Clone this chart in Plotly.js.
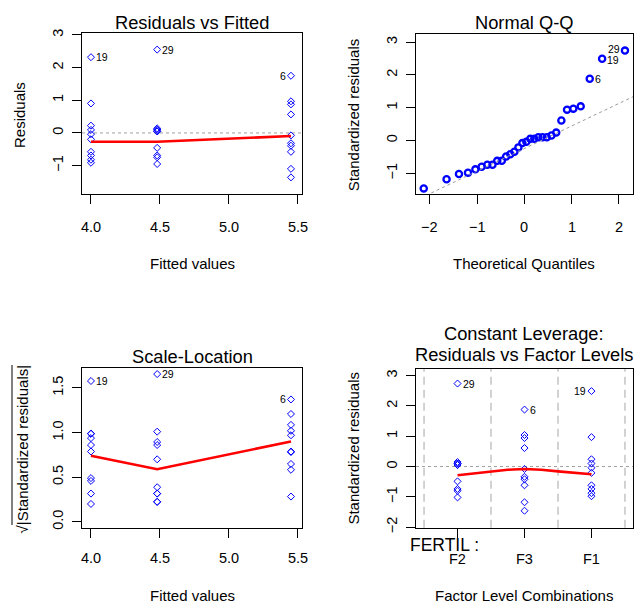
<!DOCTYPE html>
<html><head><meta charset="utf-8">
<script src="https://cdn.plot.ly/plotly-3.0.1.min.js"></script>
<style>html,body{margin:0;padding:0;background:#fff}#chart{width:635px;height:606px}</style>
</head><body><div id="chart"></div>
<script>
// ---------------- data ----------------
const factorName = 'FERTIL';
const levels = ['F1', 'F2', 'F3'];
const fittedValues = [4.00, 4.48, 5.45];            // fitted value of each level
const stdResidF1 = [2.49, 0.97, 0.24, 0.10, -0.04, -0.21, -0.62, -0.74, -0.88, -0.98];
const stdResidF2 = [2.74, 0.15, 0.10, 0.10, 0.05, 0.05, -0.49, -0.74, -0.80, -1.02];
const stdResidF3 = [1.88, 1.04, 0.94, 0.61, -0.08, -0.34, -0.42, -0.62, -1.18, -1.46];
const extremeLabels = ['19', '29', '6'];             // observation id of the largest residual of each level
const residScale = 0.93;                             // sigma * sqrt(1 - h)
const levelOrder = ['F2', 'F3', 'F1'];               // order on the factor-level plot
const theoQuantiles = [-2.128, -1.645, -1.383, -1.192, -1.036, -0.903, -0.783, -0.674, -0.573, -0.477,
  -0.385, -0.297, -0.210, -0.126, -0.042, 0.042, 0.126, 0.210, 0.297, 0.385,
  0.477, 0.573, 0.674, 0.783, 0.903, 1.036, 1.192, 1.383, 1.645, 2.128];
const normQuartile = 0.6745;
const smoothResidFitted = [-0.27, -0.27, -0.095];    // smoother at fittedValues
const smoothScaleLoc = [0.74, 0.59, 0.90];           // smoother at fittedValues
const smoothLevelX = [1, 1.25, 1.5, 1.75, 2, 2.25, 2.5, 2.75, 3];
const smoothLevelY = [-0.29, -0.235, -0.165, -0.105, -0.08, -0.105, -0.16, -0.215, -0.255];
const fittedTicks = [4, 4.5, 5, 5.5];
const quantileTicks = [-2, -1, 0, 1, 2];

// ---------------- helpers ----------------
const W = 635, H = 606;
const fx = p => p / W;
const fy = p => 1 - p / H;
const FONT = '"Liberation Sans", Arial, sans-serif';
const BLUE = '#0000ff';
const stdGroups = [stdResidF1, stdResidF2, stdResidF3];

const traces = [];
const annotations = [];
const shapes = [];

function pointLabel(xref, yref, x, y, text, side, dy) {
  annotations.push({
    xref: xref, yref: yref, x: x, y: y, text: text, showarrow: false,
    xanchor: side === 'right' ? 'left' : 'right', yanchor: 'middle',
    xshift: side === 'right' ? 3 : -3, yshift: dy || 0,
    font: {family: FONT, size: 10.5, color: '#000'}
  });
}
function xTickLabels(xref, vals, texts, ypx) {
  vals.forEach((v, k) => annotations.push({
    xref: xref, yref: 'paper', x: v, y: fy(ypx), text: texts[k], showarrow: false,
    xanchor: 'center', yanchor: 'middle', font: {family: FONT, size: 14.5, color: '#000'}
  }));
}

// ---- Panel 1: Residuals vs Fitted ----
const side1 = {'19': 'right', '29': 'right', '6': 'left'};
levels.forEach((lv, i) => {
  const res = stdGroups[i].map(v => v * residScale);
  traces.push({type: 'scatter', mode: 'markers', xaxis: 'x', yaxis: 'y',
    x: res.map(() => fittedValues[i]), y: res,
    marker: {symbol: 'diamond-open', size: 5.4, color: BLUE, line: {width: 1, color: BLUE}},
    hoverinfo: 'skip', showlegend: false});
  pointLabel('x', 'y', fittedValues[i], res[0], extremeLabels[i], side1[extremeLabels[i]]);
});
traces.push({type: 'scatter', mode: 'lines', xaxis: 'x', yaxis: 'y', x: fittedValues, y: smoothResidFitted,
  line: {color: '#ff0000', width: 2.6}, hoverinfo: 'skip', showlegend: false});

// ---- Panel 2: Normal Q-Q ----
const all = [];
levels.forEach((lv, i) => stdGroups[i].forEach((v, j) => all.push({v: v, lab: j === 0 ? extremeLabels[i] : null})));
all.sort((a, b) => a.v - b.v);
const sortedStd = all.map(d => d.v);
traces.push({type: 'scatter', mode: 'markers', xaxis: 'x2', yaxis: 'y2',
  x: theoQuantiles, y: sortedStd,
  marker: {symbol: 'circle-open', size: 6.2, color: BLUE, line: {width: 2.3, color: BLUE}},
  hoverinfo: 'skip', showlegend: false});
function quantile7(arr, p) {
  const h = (arr.length - 1) * p, lo = Math.floor(h);
  return arr[lo] + (h - lo) * (arr[lo + 1] - arr[lo]);
}
const yq1 = quantile7(sortedStd, 0.25), yq3 = quantile7(sortedStd, 0.75);
const qqSlope = (yq3 - yq1) / (2 * normQuartile);
const qqInt = yq1 + qqSlope * normQuartile;
const qqX = [-3, 3];
traces.push({type: 'scatter', mode: 'lines', xaxis: 'x2', yaxis: 'y2', x: qqX, y: qqX.map(x => qqInt + qqSlope * x),
  line: {color: '#999999', width: 1, dash: 'dot'}, hoverinfo: 'skip', showlegend: false});
const side2 = {'19': 'right', '29': 'left', '6': 'right'};
const shift2 = {'19': -1.5, '29': 2, '6': 0};
all.forEach((d, k) => { if (d.lab) pointLabel('x2', 'y2', theoQuantiles[k], d.v, d.lab, side2[d.lab], shift2[d.lab]); });

// ---- Panel 3: Scale-Location ----
const side3 = {'19': 'right', '29': 'right', '6': 'left'};
levels.forEach((lv, i) => {
  const s = stdGroups[i].map(v => Math.sqrt(Math.abs(v)));
  traces.push({type: 'scatter', mode: 'markers', xaxis: 'x3', yaxis: 'y3',
    x: s.map(() => fittedValues[i]), y: s,
    marker: {symbol: 'diamond-open', size: 5.4, color: BLUE, line: {width: 1, color: BLUE}},
    hoverinfo: 'skip', showlegend: false});
  pointLabel('x3', 'y3', fittedValues[i], s[0], extremeLabels[i], side3[extremeLabels[i]]);
});
traces.push({type: 'scatter', mode: 'lines', xaxis: 'x3', yaxis: 'y3', x: fittedValues, y: smoothScaleLoc,
  line: {color: '#ff0000', width: 2.6}, hoverinfo: 'skip', showlegend: false});

// ---- Panel 4: Constant Leverage ----
const side4 = {'19': 'left', '29': 'right', '6': 'right'};
levelOrder.forEach((lv, k) => {
  const i = levels.indexOf(lv);
  traces.push({type: 'scatter', mode: 'markers', xaxis: 'x4', yaxis: 'y4',
    x: stdGroups[i].map(() => k + 1), y: stdGroups[i],
    marker: {symbol: 'diamond-open', size: 5.4, color: BLUE, line: {width: 1, color: BLUE}},
    hoverinfo: 'skip', showlegend: false});
  pointLabel('x4', 'y4', k + 1, stdGroups[i][0], extremeLabels[i], side4[extremeLabels[i]]);
});
traces.push({type: 'scatter', mode: 'lines', xaxis: 'x4', yaxis: 'y4', x: smoothLevelX, y: smoothLevelY,
  line: {color: '#ff0000', width: 2.6}, hoverinfo: 'skip', showlegend: false});
for (let k = 0; k <= levelOrder.length; k++) {
  shapes.push({type: 'line', xref: 'x4', yref: 'y4 domain', x0: k + 0.5, x1: k + 0.5, y0: 0, y1: 1,
    line: {color: '#c4c4c4', width: 1.5, dash: '8px,5px'}, layer: 'below'});
}
// zero reference lines
[['x domain', 'y'], ['x4 domain', 'y4']].forEach(([xr, yr]) => {
  shapes.push({type: 'line', xref: xr, yref: yr, x0: 0, x1: 1, y0: 0, y1: 0,
    line: {color: '#a0a0a0', width: 1, dash: 'dot'}, layer: 'below'});
});
// overbar of the square-root sign in the scale-location y title
shapes.push({type: 'line', xref: 'paper', yref: 'paper', x0: fx(12), x1: fx(12), y0: fy(365), y1: fy(525),
  line: {color: '#000', width: 1}});

// x tick labels (placed under each panel)
xTickLabels('x', fittedTicks, fittedTicks.map(v => v.toFixed(1)), 227);
xTickLabels('x2', quantileTicks, quantileTicks.map(v => v < 0 ? '\u2212' + Math.abs(v) : String(v)), 227);
xTickLabels('x3', fittedTicks, fittedTicks.map(v => v.toFixed(1)), 558);
xTickLabels('x4', levelOrder.map((l, k) => k + 1), levelOrder, 559);

// ---------------- axes ----------------
function ax(domain, range, extra) {
  return Object.assign({
    domain: domain, range: range, showline: true, mirror: true, linecolor: '#000', linewidth: 1,
    ticks: 'outside', ticklen: 9, tickwidth: 1, tickcolor: '#000', showgrid: false, zeroline: false,
    tickfont: {family: FONT, size: 14.5, color: '#000'}, fixedrange: true, automargin: false
  }, extra);
}
const yExtra = {tickangle: -90, ticklabelstandoff: 3};

const layout = {
  width: W, height: H, margin: {l: 0, r: 0, t: 0, b: 0}, paper_bgcolor: '#fff', plot_bgcolor: '#fff',
  showlegend: false, font: {family: FONT, color: '#000'},
  xaxis: ax([fx(82), fx(302)], [3.935, 5.53], {anchor: 'y', tickmode: 'array', tickvals: fittedTicks, showticklabels: false}),
  yaxis: ax([fy(194.3), fy(33)], [-1.875, 3.055], Object.assign({anchor: 'x', tickmode: 'array', tickvals: [-1, 0, 1, 2, 3]}, yExtra)),
  xaxis2: ax([fx(415.7), fx(633)], [-2.298, 2.298], {anchor: 'y2', tickmode: 'array', tickvals: quantileTicks, showticklabels: false}),
  yaxis2: ax([fy(194.3), fy(34.3)], [-1.64, 3.236], Object.assign({anchor: 'x2', tickmode: 'array', tickvals: [-1, 0, 1, 2, 3]}, yExtra)),
  xaxis3: ax([fx(82), fx(302)], [3.935, 5.53], {anchor: 'y3', tickmode: 'array', tickvals: fittedTicks, showticklabels: false}),
  yaxis3: ax([fy(527.7), fy(368.3)], [-0.066, 1.72], Object.assign({anchor: 'x3', tickmode: 'array', tickvals: [0, 0.5, 1, 1.5], tickformat: '.1f'}, yExtra)),
  xaxis4: ax([fx(416), fx(633)], [0.38, 3.62], {anchor: 'y4', tickmode: 'array', tickvals: levelOrder.map((l, k) => k + 1), showticklabels: false}),
  yaxis4: ax([fy(527.7), fy(369)], [-2.02, 3.22], Object.assign({anchor: 'x4', tickmode: 'array', tickvals: [-2, -1, 0, 1, 2, 3]}, yExtra)),
  shapes: shapes,
  annotations: annotations
};

function paperText(text, xpx, ypx, size, opts) {
  annotations.push(Object.assign({xref: 'paper', yref: 'paper', x: fx(xpx), y: fy(ypx), text: text, showarrow: false,
    xanchor: 'center', yanchor: 'middle', font: {family: FONT, size: size, color: '#000'}}, opts || {}));
}
// titles
paperText('Residuals vs Fitted', 192, 23, 18.3);
paperText('Normal Q-Q', 524.3, 23, 18.3);
paperText('Scale-Location', 192, 356, 18.3);
paperText('Constant Leverage:', 524.3, 333, 18.3);
paperText('Residuals vs Factor Levels', 524.3, 354.5, 18.3);
// axis titles
paperText('Fitted values', 192, 263, 15);
paperText('Theoretical Quantiles', 524.3, 263, 15);
paperText('Fitted values', 192, 595, 15);
paperText('Factor Level Combinations', 524.3, 595, 15);
paperText('Residuals', 19, 115, 15, {textangle: -90});
paperText('Standardized residuals', 353.3, 115, 15, {textangle: -90});
paperText('\u221A|Standardized residuals|', 21.5, 449, 15, {textangle: -90});
paperText('Standardized residuals', 353.3, 448.3, 15, {textangle: -90});
paperText(factorName + ' :', 408, 545, 17.5, {xanchor: 'left'});

Plotly.newPlot('chart', traces, layout, {staticPlot: true, displayModeBar: false});
</script>
</body></html>
